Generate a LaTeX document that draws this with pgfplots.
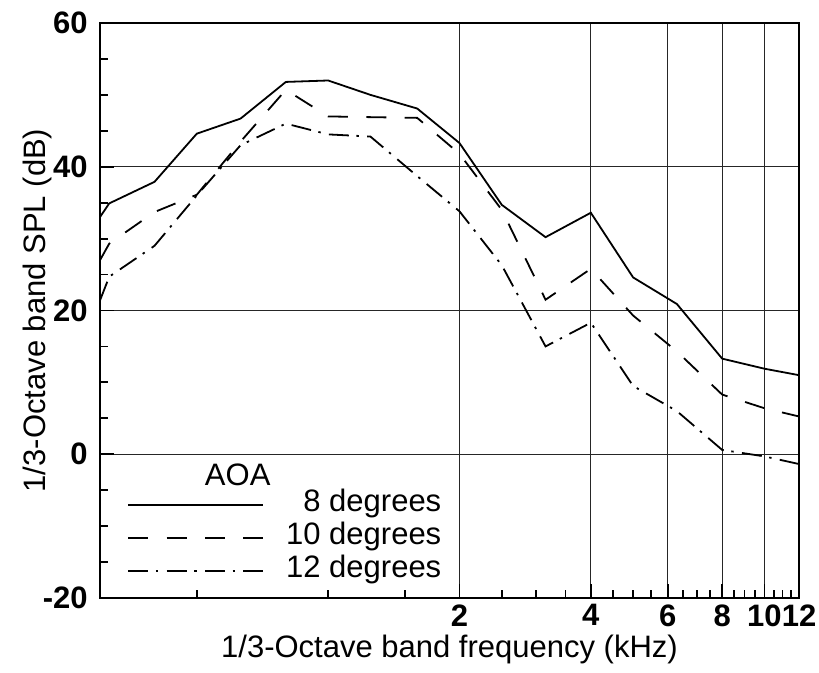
\documentclass[border=0pt]{standalone}
\usepackage{fontspec}
\setmainfont{Liberation Sans}
\usepackage{pgfplots}
\pgfplotsset{compat=1.18}
\begin{document}
\fontsize{15.5}{18.6}\selectfont
\begin{tikzpicture}
\useasboundingbox (-50pt,-37.5pt) rectangle (359.5pt,299pt);
\begin{axis}[
  at={(0,0)}, anchor=south west,
  scale only axis, width=349.5pt, height=287.5pt,
  xmode=log, xmin=0.3, xmax=12, ymin=-20, ymax=60,
  xtick={2,4,6,8,10,12}, xticklabels={2,4,6,8,10,12},
  minor xtick={0.5,1,1.5,2.5,3,3.5,4.5,5,5.5,6.5,7,7.5,8.5,9,9.5,10.5,11,11.5},
  ytick={-20,0,20,40,60}, yticklabels={-20,0,20,40,60},
  minor ytick={-15,-10,-5,5,10,15,25,30,35,45,50,55},
  tick pos=left, tick align=inside,
  major tick length=7pt, minor tick length=4pt,
  every tick/.style={black, line width=0.9pt},
  grid=major, major grid style={black!85, line width=0.5pt},
  axis line style={line width=1pt},
  tick label style={font=\fontsize{15.5}{18}\selectfont\bfseries, inner sep=0pt},
  xticklabel shift=3pt, yticklabel shift=6pt,
  xlabel={1/3-Octave band frequency (kHz)},
  ylabel={1/3-Octave band SPL (dB)},
  every axis x label/.style={at={(axis description cs:0.5,-0.09)}, anchor=center},
  every axis y label/.style={at={(axis description cs:-0.09,0.5)}, anchor=center, rotate=90},
  legend style={at={(axis description cs:0.0386,0.191)}, anchor=north west,
    draw=none, fill=none, inner sep=0pt, row sep=0pt,
    nodes={inner sep=0pt, text height=11.5pt, text depth=5pt},
    /tikz/every odd column/.style={column sep=11pt}},
  legend cell align=right,
  legend image code/.code={\draw[#1] (0pt,0pt) -- (67.5pt,0pt);},
]
\addplot[black, line width=0.9pt] coordinates {
(0.3,33.0) (0.315,34.9) (0.4,37.9) (0.5,44.6) (0.63,46.7) (0.8,51.8) (1.0,52.0)
(1.25,50.0) (1.6,48.1) (2.0,43.3) (2.5,34.7) (3.15,30.2) (4.0,33.6) (5.0,24.6)
(6.3,20.9) (8.0,13.3) (10.0,11.9) (12.5,10.8)};
\addlegendentry{8 degrees}
\addplot[black, line width=0.9pt, dash pattern=on 10pt off 9.2pt] coordinates {
(0.3,27.0) (0.315,29.3) (0.4,33.7) (0.5,36.1) (0.63,43.5) (0.8,50.7) (1.0,47.0)
(1.25,46.9) (1.6,46.8) (2.0,41.8) (2.5,34.0) (3.15,21.5) (4.0,25.8) (5.0,19.3)
(6.3,14.3) (8.0,8.3) (10.0,6.4) (12.5,5.0)};
\addlegendentry{10 degrees}
\addplot[black, line width=0.9pt, dash pattern=on 10pt off 3.8pt on 1.2pt off 4.2pt] coordinates {
(0.3,21.4) (0.315,24.7) (0.4,29.0) (0.5,36.0) (0.63,43.0) (0.8,46.0) (1.0,44.5)
(1.25,44.2) (1.6,38.7) (2.0,33.8) (2.5,26.3) (3.15,15.0) (4.0,18.3) (5.0,9.5)
(6.3,6.0) (8.0,0.6) (10.0,-0.3) (12.5,-1.6)};
\addlegendentry{12 degrees}
\node[anchor=center, inner sep=0pt] at (rel axis cs:0.197,0.214) {AOA};
\end{axis}
\end{tikzpicture}
\end{document}
